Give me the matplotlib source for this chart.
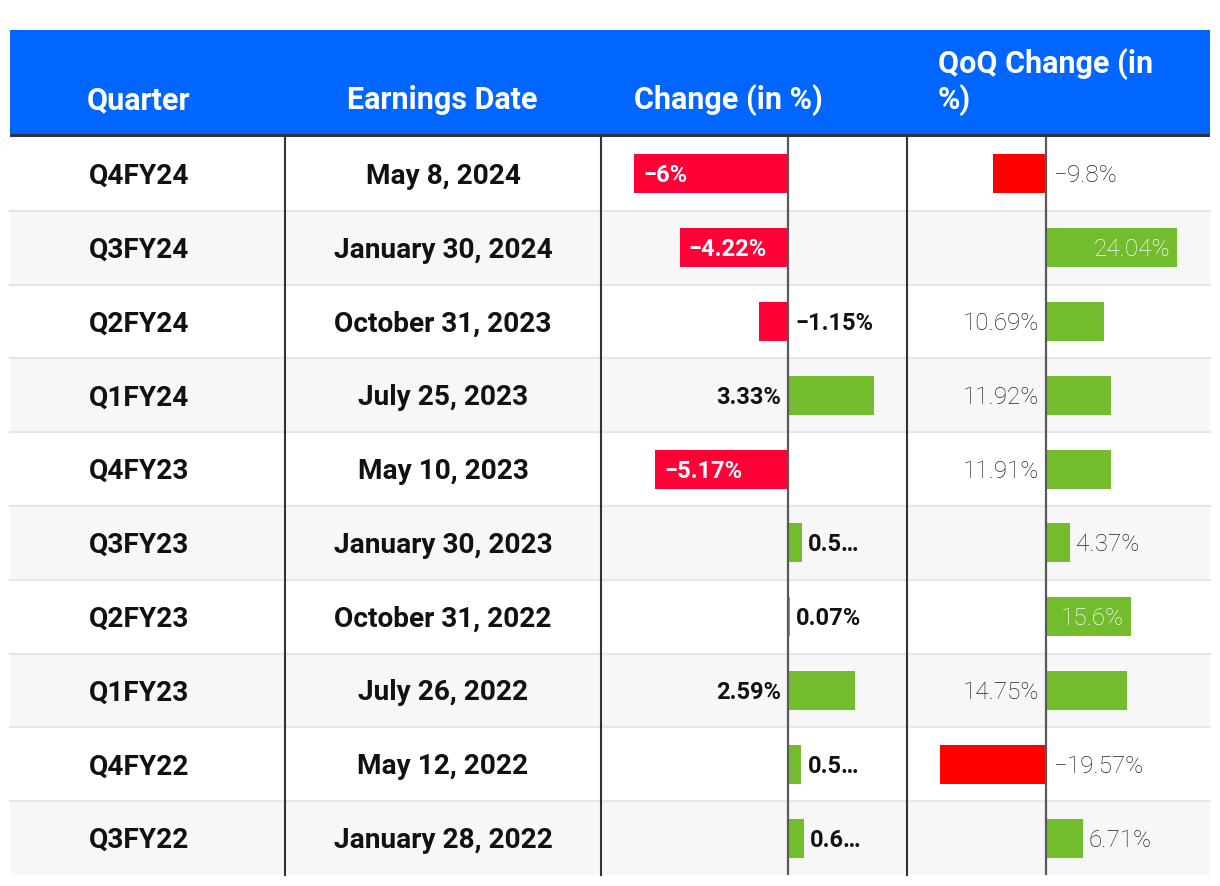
import matplotlib
matplotlib.use("Agg")
import matplotlib.pyplot as plt
import numpy as np

plt.rcParams['font.family'] = ['Roboto', 'DejaVu Sans']

# --- Data ---
quarters = ["Q4FY24", "Q3FY24", "Q2FY24", "Q1FY24", "Q4FY23",
            "Q3FY23", "Q2FY23", "Q1FY23", "Q4FY22", "Q3FY22"]
earnings_dates = ["May 8, 2024", "January 30, 2024", "October 31, 2023",
                  "July 25, 2023", "May 10, 2023", "January 30, 2023",
                  "October 31, 2022", "July 26, 2022", "May 12, 2022",
                  "January 28, 2022"]
change_pct = [-6.0, -4.22, -1.15, 3.33, -5.17, 0.52, 0.07, 2.59, 0.51, 0.61]
change_labels = ["\u22126%", "\u22124.22%", "\u22121.15%", "3.33%", "\u22125.17%",
                 "0.5\u2026", "0.07%", "2.59%", "0.5\u2026", "0.6\u2026"]
qoq_pct = [-9.8, 24.04, 10.69, 11.92, 11.91, 4.37, 15.6, 14.75, -19.57, 6.71]
qoq_labels = ["\u22129.8%", "24.04%", "10.69%", "11.92%", "11.91%",
              "4.37%", "15.6%", "14.75%", "\u221219.57%", "6.71%"]
headers = ["Quarter", "Earnings Date", "Change (in %)"]

# --- Layout (pixels) ---
W, H = 1220, 886
LEFT, RIGHT = 10, 1210
HEAD_TOP, HEAD_BOT = 30, 134
BODY_TOP, BODY_BOT = 137, 875
col_edges = [LEFT, 285, 601, 907, RIGHT]
n = len(quarters)
row_h = (BODY_BOT - BODY_TOP) / n

BLUE = "#0066FF"
GREEN = "#72BC2E"
RED_CHANGE = "#FF0037"
RED_QOQ = "#FF0000"


def change_pos(v):
    if v <= -3:
        return "inside"
    if v < 0:
        return "zero_right"
    if v >= 1:
        return "zero_left"
    return "end_right"


def qoq_pos(v):
    if v < 0:
        return "zero_right"
    if v >= 15.5:
        return "inside"
    if v >= 10:
        return "zero_left"
    return "end_right"


def bar_column(fig, x0, x1, values, labels, neg_color, pos_fn, pad_px,
               txt_color, weight, size):
    ax = fig.add_axes([x0 / W, 1 - BODY_BOT / H, (x1 - x0) / W,
                       (BODY_BOT - BODY_TOP) / H])
    ax.set_facecolor("none")
    ax.axis("off")
    vmin, vmax = min(values), max(values)
    span_px = (x1 - x0) - 2 * pad_px
    per_px = (vmax - vmin) / span_px
    ax.set_xlim(vmin - pad_px * per_px, vmax + pad_px * per_px)
    ax.set_ylim(n - 0.5, -0.5)
    y = np.arange(n)
    colors = [neg_color if v < 0 else GREEN for v in values]
    ax.barh(y, values, height=0.53, color=colors, zorder=2)
    ax.axvline(0, color="#595959", lw=1.6, zorder=3)

    for i, (v, lab) in enumerate(zip(values, labels)):
        pos = pos_fn(v)
        col = txt_color
        if pos == "inside":
            col = "white"
            if v < 0:
                xy, off, ha = (v, i), 9, "left"
            else:
                xy, off, ha = (v, i), -7, "right"
        elif pos == "zero_right":
            xy, off, ha = (0, i), 7, "left"
        elif pos == "zero_left":
            xy, off, ha = (0, i), -7, "right"
        else:
            xy, off, ha = (v, i), 6, "left"
        ax.annotate(lab, xy, xytext=(off, -2), textcoords="offset pixels",
                    ha=ha, va="center", color=col, fontsize=size,
                    fontweight=weight, zorder=4)
    return ax


fig = plt.figure(figsize=(W / 100, H / 100), dpi=100)
ax = fig.add_axes([0, 0, 1, 1])
ax.set_xlim(0, W)
ax.set_ylim(H, 0)
ax.axis("off")

# header
ax.add_patch(plt.Rectangle((LEFT, HEAD_TOP), RIGHT - LEFT, HEAD_BOT - HEAD_TOP,
                           color=BLUE, lw=0))
ax.add_patch(plt.Rectangle((LEFT, HEAD_BOT), RIGHT - LEFT, BODY_TOP - HEAD_BOT,
                           color="#333333", lw=0))

# row backgrounds and separators
for i in range(n):
    top = BODY_TOP + i * row_h
    fc = "#F7F7F7" if i % 2 == 1 else "white"
    ax.add_patch(plt.Rectangle((LEFT, top), RIGHT - LEFT, row_h, color=fc, lw=0))
    if i > 0:
        ax.plot([LEFT, RIGHT], [top, top], color="#E6E6E6", lw=1.5)

# column separators
for x in col_edges[1:-1]:
    ax.plot([x, x], [BODY_TOP, BODY_BOT], color="#333333", lw=1.5)

# header text
hy = 109
hkw = dict(color="white", fontsize=22, fontweight="bold", va="baseline")
ax.text(139, hy, headers[0], ha="center", **hkw)
ax.text(442, hy, headers[1], ha="center", **hkw)
ax.text(634, hy, headers[2], ha="left", **hkw)
ax.text(938, 73, "QoQ Change (in", ha="left", **hkw)
ax.text(938, hy, "%)", ha="left", **hkw)

# body text
for i in range(n):
    cy = BODY_TOP + (i + 0.5) * row_h + 2.5
    ax.text(139, cy, quarters[i], fontsize=20.2, fontweight="bold",
            color="#111111", ha="center", va="center")
    ax.text(443, cy, earnings_dates[i], fontsize=20.2, fontweight="bold",
            color="#111111", ha="center", va="center")

bar_column(fig, col_edges[2], col_edges[3], change_pct, change_labels,
           RED_CHANGE, change_pos, 33, "#111111", "bold", 17)
bar_column(fig, col_edges[3], col_edges[4], qoq_pct, qoq_labels,
           RED_QOQ, qoq_pos, 33, "#222222", "light", 17.5)

fig.savefig("out.png", dpi=100)
